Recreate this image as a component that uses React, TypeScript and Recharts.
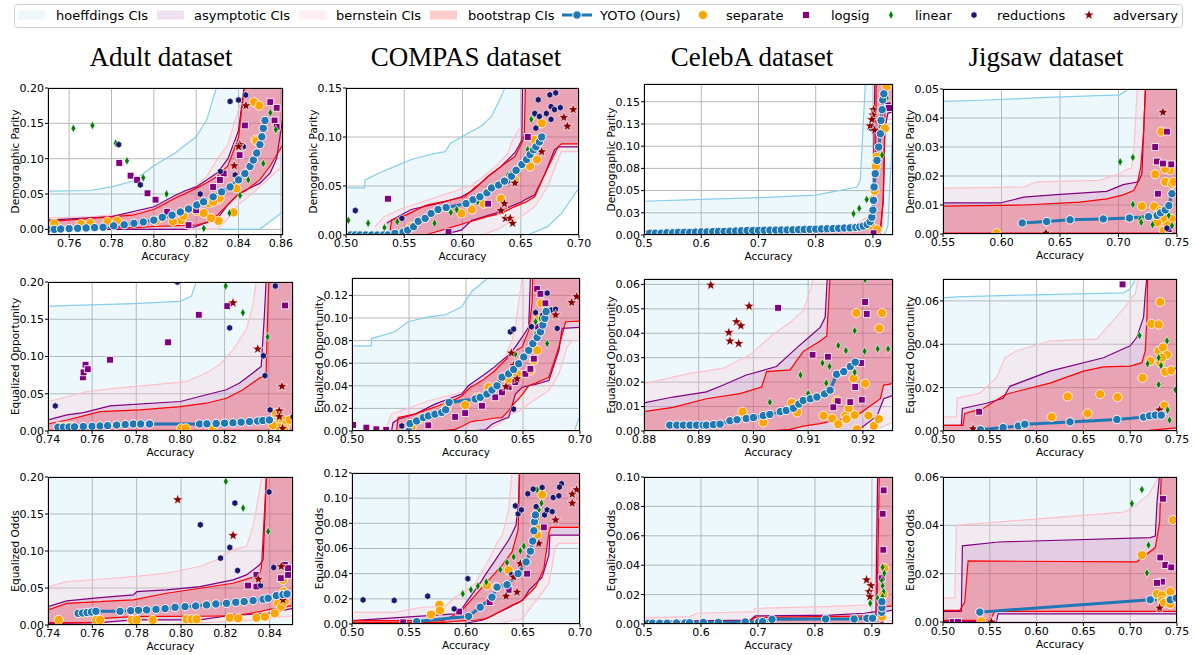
import React from "react";
import { Area, CartesianGrid, ComposedChart, Line, Scatter, XAxis, YAxis } from "recharts";

type BandRow = [number, number, number];
type Pt = [number, number];

// tick values
const ticksAdultDpX = [0.76, 0.78, 0.8, 0.82, 0.84, 0.86];
const ticksAdultX = [0.74, 0.76, 0.78, 0.8, 0.82, 0.84];
const ticksCompasX = [0.5, 0.55, 0.6, 0.65, 0.7];
const ticksCelebaX = [0.5, 0.6, 0.7, 0.8, 0.9];
const ticksCelebaEoX = [0.88, 0.89, 0.9, 0.91, 0.92];
const ticksJigsawDpX = [0.55, 0.6, 0.65, 0.7, 0.75];
const ticksJigsawX = [0.5, 0.55, 0.6, 0.65, 0.7, 0.75];
const ticksY020 = [0, 0.05, 0.1, 0.15, 0.2];
const ticksY015 = [0, 0.05, 0.1, 0.15];
const ticksYCeleba = [0, 0.025, 0.05, 0.075, 0.1, 0.125, 0.15];
const ticksY005 = [0, 0.01, 0.02, 0.03, 0.04, 0.05];
const ticksY012 = [0, 0.02, 0.04, 0.06, 0.08, 0.1, 0.12];
const ticksY006 = [0, 0.01, 0.02, 0.03, 0.04, 0.05, 0.06];
const ticksY06 = [0, 0.02, 0.04, 0.06];
const ticksY010 = [0, 0.02, 0.04, 0.06, 0.08, 0.1];

// ---------- Adult / demographic parity
const adultDP_hoeff: BandRow[] = [[0.75,0,0.054],[0.77,0,0.055],[0.78,0,0.06],[0.79,0,0.068],[0.8,0,0.09],[0.81,0,0.108],[0.82,0,0.131],[0.825,0,0.155],[0.83,0,0.205],[0.835,0,0.3],[0.85,0,0.5],[0.861,0.025,0.5]];
const adultDP_bern: BandRow[] = [[0.75,0,0.016],[0.77,0,0.018],[0.79,0,0.022],[0.8,0,0.03],[0.81,0,0.045],[0.82,0,0.062],[0.825,0,0.075],[0.83,0,0.1],[0.835,0.015,0.12],[0.84,0.035,0.17],[0.845,0.047,0.215],[0.85,0.06,0.4],[0.861,0.09,0.5]];
const adultDP_asym: BandRow[] = [[0.75,0,0.013],[0.78,0,0.018],[0.8,0,0.032],[0.81,0,0.048],[0.815,0,0.055],[0.82,0.004,0.06],[0.83,0.015,0.08],[0.835,0.035,0.1],[0.84,0.05,0.14],[0.843,0.055,0.21],[0.85,0.065,0.4],[0.855,0.08,0.5],[0.858,0.1,0.5],[0.861,0.16,0.5]];
const adultDP_boot: BandRow[] = [[0.75,0.002,0.011],[0.79,0.002,0.02],[0.8,0.004,0.028],[0.81,0.005,0.044],[0.82,0.006,0.058],[0.825,0.01,0.066],[0.83,0.02,0.075],[0.835,0.035,0.09],[0.84,0.05,0.13],[0.843,0.054,0.21],[0.85,0.07,0.4],[0.855,0.09,0.5],[0.861,0.12,0.5]];
const adultDP_yoto: Pt[] = [[0.75,0],[0.753,0],[0.756,0.0005],[0.76,0.001],[0.764,0.0015],[0.768,0.002],[0.772,0.0025],[0.776,0.003],[0.781,0.005],[0.786,0.0065],[0.7906,0.0085],[0.795,0.0104],[0.8,0.013],[0.804,0.017],[0.8086,0.02],[0.8125,0.0246],[0.8164,0.0288],[0.8203,0.0345],[0.8235,0.039],[0.828,0.046],[0.832,0.053],[0.836,0.06],[0.84,0.07],[0.843,0.079],[0.8454,0.089],[0.847,0.098],[0.8486,0.108],[0.8501,0.12],[0.851,0.131],[0.8517,0.143],[0.8525,0.154]];
const adultDP_sep: Pt[] = [[0.8473,0.18],[0.8498,0.175],[0.848,0.127],[0.8485,0.125],[0.8305,0.042],[0.831,0.044],[0.839,0.058],[0.8376,0.024],[0.8305,0.012],[0.827,0.016],[0.82,0.026],[0.813,0.013],[0.809,0.011],[0.801,0.012],[0.7827,0.012],[0.778,0.011],[0.77,0.009],[0.7655,0.0076],[0.753,0.0085],[0.8235,0.023],[0.826,0.037],[0.828,0.039],[0.814,0.019]];
const adultDP_log: Pt[] = [[0.855,0.18],[0.858,0.172],[0.857,0.154],[0.858,0.145],[0.843,0.147],[0.8415,0.117],[0.8405,0.105],[0.833,0.079],[0.8312,0.07],[0.828,0.06],[0.7837,0.094],[0.789,0.076],[0.7921,0.07],[0.797,0.051],[0.8008,0.042],[0.8063,0.025],[0.8164,0.006],[0.82,0.027]];
const adultDP_lin: Pt[] = [[0.762,0.143],[0.771,0.147],[0.782,0.122],[0.7873,0.097],[0.795,0.073],[0.806,0.05],[0.8236,0.0014],[0.8357,0.023],[0.8446,0.07],[0.8517,0.093],[0.8576,0.141],[0.855,0.165],[0.8407,0.048]];
const adultDP_red: Pt[] = [[0.7834,0.12],[0.7936,0.063],[0.836,0.181],[0.84,0.183],[0.8434,0.19],[0.8423,0.117],[0.8314,0.082],[0.8384,0.077],[0.8219,0.05]];
const adultDP_adv: Pt[] = [[0.8435,0.175],[0.8406,0.12],[0.838,0.09],[0.84,0.117]];

// ---------- COMPAS / demographic parity
const compasDP_hoeff: BandRow[] = [[0.5,0,0.048],[0.516,0,0.048],[0.5161,0,0.056],[0.528,0,0.063],[0.542,0,0.07],[0.556,0,0.077],[0.576,0,0.083],[0.585,0,0.085],[0.59,0,0.094],[0.605,0,0.104],[0.616,0,0.111],[0.625,0,0.121],[0.629,0,0.131],[0.632,0,0.138],[0.637,0,0.152],[0.656,0,0.3],[0.673,0.0085,0.3],[0.685,0.022,0.3],[0.693,0.036,0.3],[0.7,0.048,0.3]];
const compasDP_bern: BandRow[] = [[0.525,0,0.0085],[0.533,0,0.019],[0.548,0,0.027],[0.571,0,0.036],[0.591,0,0.044],[0.608,0,0.051],[0.616,0,0.058],[0.619,0.001,0.061],[0.628,0.005,0.07],[0.631,0.006,0.073],[0.639,0.012,0.084],[0.643,0.0145,0.097],[0.648,0.017,0.107],[0.6506,0.019,0.111],[0.652,0.02,0.2],[0.662,0.029,0.3],[0.673,0.049,0.3],[0.682,0.077,0.3],[0.685,0.085,0.3],[0.7,0.085,0.3]];
const compasDP_asym: BandRow[] = [[0.535,0,0.012],[0.539,0,0.015],[0.556,0,0.026],[0.582,0,0.033],[0.599,0.005,0.039],[0.608,0.015,0.045],[0.611,0.016,0.048],[0.622,0.02,0.06],[0.628,0.022,0.065],[0.633,0.025,0.07],[0.645,0.031,0.084],[0.651,0.034,0.097],[0.652,0.035,0.2],[0.662,0.041,0.3],[0.671,0.063,0.3],[0.679,0.087,0.3],[0.683,0.09,0.3],[0.7,0.09,0.3]];
const compasDP_boot: BandRow[] = [[0.538,0,0.005],[0.539,0,0.015],[0.551,0,0.02],[0.568,0,0.03],[0.571,0.001,0.031],[0.591,0.008,0.036],[0.602,0.012,0.039],[0.611,0.015,0.049],[0.616,0.017,0.053],[0.622,0.019,0.06],[0.633,0.022,0.07],[0.645,0.029,0.08],[0.651,0.032,0.094],[0.653,0.033,0.102],[0.655,0.034,0.2],[0.662,0.039,0.3],[0.671,0.063,0.3],[0.682,0.09,0.3],[0.685,0.093,0.3],[0.7,0.093,0.3]];
const compasDP_yoto: Pt[] = [[0.5,0],[0.504,0],[0.508,0],[0.512,0],[0.517,0],[0.522,0],[0.527,0],[0.532,0],[0.536,0],[0.542,0.0017],[0.549,0.003],[0.553,0.005],[0.558,0.0085],[0.562,0.014],[0.568,0.017],[0.573,0.022],[0.579,0.026],[0.586,0.028],[0.603,0.032],[0.609,0.036],[0.615,0.039],[0.621,0.043],[0.625,0.048],[0.631,0.051],[0.636,0.055],[0.642,0.06],[0.646,0.066],[0.651,0.072],[0.655,0.077],[0.658,0.082],[0.661,0.087],[0.663,0.09],[0.666,0.095],[0.668,0.1]];
const compasDP_sep: Pt[] = [[0.668,0.114],[0.662,0.097],[0.664,0.077],[0.645,0.056],[0.633,0.037],[0.599,0.022],[0.608,0.026],[0.618,0.032],[0.556,0.0085],[0.658,0.07]];
const compasDP_log: Pt[] = [[0.536,0.037],[0.588,0.003],[0.622,0.032],[0.656,0.1]];
const compasDP_lin: Pt[] = [[0.502,0.015],[0.519,0.012],[0.533,0.0075],[0.544,0.0136],[0.576,0.012],[0.59,0.023],[0.595,0.026],[0.605,0.032],[0.613,0.034],[0.638,0.055],[0.639,0.061],[0.651,0.07],[0.656,0.087],[0.659,0.118],[0.662,0.123],[0.665,0.095]];
const compasDP_red: Pt[] = [[0.508,0.025],[0.548,0.017],[0.662,0.124],[0.665,0.138],[0.675,0.143],[0.68,0.145],[0.676,0.131],[0.679,0.128],[0.684,0.13],[0.672,0.124],[0.666,0.121],[0.663,0.109],[0.676,0.118],[0.643,0.063],[0.639,0.055]];
const compasDP_adv: Pt[] = [[0.687,0.12],[0.69,0.111],[0.695,0.128],[0.668,0.085],[0.645,0.053],[0.636,0.032],[0.633,0.025],[0.637,0.017],[0.641,0.017],[0.643,0.012]];

// ---------- CelebA / demographic parity
const celebaDP_hoeff: BandRow[] = [[0.5,0,0.038],[0.6,0,0.04],[0.7,0,0.042],[0.8,0,0.045],[0.872,0,0.054],[0.878,0,0.062],[0.889,0,0.2],[0.92,0,0.3],[0.926,0.01,0.3],[0.93,0.06,0.3],[0.935,0.12,0.3]];
const celebaDP_bern: BandRow[] = [[0.5,0,0.004],[0.7,0,0.005],[0.8,0,0.006],[0.872,0,0.013],[0.9,0,0.024],[0.905,0,0.1],[0.907,0,0.3],[0.91,0,0.3],[0.917,0.01,0.3],[0.92,0.1,0.3],[0.922,0.13,0.3],[0.935,0.13,0.3]];
const celebaDP_asym: BandRow[] = [[0.5,0,0.002],[0.8,0,0.004],[0.884,0,0.013],[0.9,0,0.024],[0.906,0.002,0.3],[0.913,0.006,0.3],[0.918,0.04,0.3],[0.921,0.12,0.3],[0.926,0.137,0.3],[0.935,0.139,0.3]];
const celebaDP_boot: BandRow[] = [[0.5,0,0.004],[0.52,0,0.004],[0.521,0,0.003],[0.8,0,0.003],[0.884,0,0.006],[0.898,0,0.017],[0.904,0,0.039],[0.907,0.001,0.3],[0.913,0.002,0.3],[0.918,0.04,0.3],[0.921,0.144,0.3],[0.935,0.145,0.3]];
const celebaDP_yoto: Pt[] = [[0.51,0.002],[0.52,0.002],[0.53,0.002],[0.54,0.0025],[0.55,0.0025],[0.56,0.003],[0.57,0.003],[0.58,0.003],[0.59,0.0033],[0.6,0.0035],[0.61,0.0035],[0.62,0.0038],[0.63,0.004],[0.64,0.004],[0.65,0.0043],[0.66,0.0045],[0.67,0.0047],[0.68,0.005],[0.69,0.005],[0.7,0.0052],[0.71,0.0053],[0.72,0.0054],[0.73,0.0055],[0.74,0.0056],[0.75,0.0056],[0.76,0.0058],[0.77,0.006],[0.78,0.0062],[0.79,0.0064],[0.8,0.0066],[0.81,0.0068],[0.82,0.007],[0.83,0.0072],[0.84,0.0075],[0.85,0.0078],[0.86,0.008],[0.87,0.0085],[0.877,0.009],[0.883,0.01],[0.89,0.012],[0.895,0.015],[0.898,0.02],[0.9,0.028],[0.901,0.039],[0.902,0.054],[0.904,0.069],[0.907,0.084],[0.91,0.099],[0.913,0.114],[0.914,0.129],[0.916,0.141],[0.917,0.152],[0.919,0.159]];
const celebaDP_sep: Pt[] = [[0.905,0.077],[0.907,0.088],[0.921,0.12],[0.924,0.167],[0.898,0.009],[0.907,0.006],[0.903,0.05],[0.9,0.04]];
const celebaDP_log: Pt[] = [[0.926,0.146],[0.928,0.143],[0.901,0.002]];
const celebaDP_lin: Pt[] = [[0.866,0.024],[0.876,0.03],[0.889,0.04],[0.916,0.09],[0.924,0.154],[0.504,0],[0.518,0]];
const celebaDP_red: Pt[] = [[0.897,0.12],[0.9,0.123]];
const celebaDP_adv: Pt[] = [[0.901,0.141],[0.9,0.135],[0.895,0.123],[0.898,0.13],[0.903,0.118]];

// ---------- Jigsaw / demographic parity
const jigsawDP_hoeff: BandRow[] = [[0.55,0,0.0457],[0.59,0,0.0462],[0.633,0,0.047],[0.701,0,0.048],[0.709,0,0.05],[0.712,0,0.1],[0.75,0,0.1]];
const jigsawDP_bern: BandRow[] = [[0.55,0,0.0158],[0.619,0,0.0162],[0.63,0,0.018],[0.684,0,0.0185],[0.701,0,0.0208],[0.708,0,0.0225],[0.711,0,0.0225],[0.713,0,0.028],[0.716,0,0.05],[0.72,0,0.1],[0.75,0,0.1]];
const jigsawDP_asym: BandRow[] = [[0.55,0,0.0107],[0.599,0,0.0107],[0.619,0,0.0127],[0.647,0,0.0136],[0.69,0,0.0147],[0.704,0,0.017],[0.717,0,0.018],[0.72,0,0.0208],[0.7214,0,0.0347],[0.723,0,0.05],[0.725,0,0.1],[0.75,0,0.1]];
const jigsawDP_boot: BandRow[] = [[0.55,0.0003,0.0096],[0.619,0.0003,0.01],[0.667,0.0003,0.011],[0.69,0.0003,0.0121],[0.704,0.0003,0.0135],[0.713,0.0003,0.015],[0.716,0.0003,0.0173],[0.719,0.0003,0.0231],[0.7214,0.0003,0.0347],[0.723,0.0003,0.05],[0.725,0.0003,0.1],[0.75,0.0003,0.1]];
const jigsawDP_yoto: Pt[] = [[0.6177,0.0038],[0.6386,0.0043],[0.6586,0.0049],[0.687,0.0052],[0.7094,0.0055],[0.7257,0.006],[0.733,0.0064],[0.736,0.0073],[0.74,0.0083],[0.743,0.0098],[0.7457,0.0139]];
const jigsawDP_sep: Pt[] = [[0.5957,0.0003],[0.7366,0.0353],[0.72,0.0096],[0.7306,0.0095],[0.7314,0.0206],[0.74,0.018],[0.7437,0.022],[0.74,0.0225],[0.7457,0.0173],[0.7471,0.018],[0.7357,0.008],[0.7386,0.0052],[0.7457,0.0052],[0.7386,0.0012],[0.733,0.004],[0.742,0.003]];
const jigsawDP_log: Pt[] = [[0.7414,0.0353],[0.7314,0.03],[0.7329,0.025],[0.738,0.0243],[0.7451,0.024],[0.7337,0.0139],[0.7429,0.0017]];
const jigsawDP_lin: Pt[] = [[0.7014,0.0249],[0.7123,0.0264],[0.7123,0.0102],[0.7186,0.0052],[0.7194,0.004],[0.7291,0.0032],[0.7429,0.0064],[0.7457,0.0029]];
const jigsawDP_red: Pt[] = [[0.7414,0.002]];
const jigsawDP_adv: Pt[] = [[0.738,0.042],[0.638,0.0003]];

// ---------- Adult / equalized opportunity
const adultEO_hoeff: BandRow[] = [[0.74,0,0.1676],[0.7786,0,0.171],[0.8,0,0.174],[0.805,0,0.181],[0.807,0,0.199],[0.808,0,0.3],[0.851,0,0.3]];
const adultEO_bern: BandRow[] = [[0.74,0,0.0396],[0.7486,0,0.046],[0.7576,0,0.053],[0.7711,0,0.0575],[0.7877,0,0.062],[0.8027,0,0.0665],[0.8117,0,0.0778],[0.8177,0,0.089],[0.8238,0,0.109],[0.8298,0,0.136],[0.8328,0,0.168],[0.8343,0,0.2],[0.836,0,0.3],[0.851,0,0.3]];
const adultEO_asym: BandRow[] = [[0.74,0,0.0148],[0.7486,0,0.0216],[0.7561,0,0.0247],[0.7681,0,0.0337],[0.8,0,0.0396],[0.8087,0,0.0463],[0.8208,0,0.0553],[0.8268,0,0.0643],[0.8328,0,0.0778],[0.8366,0,0.0867],[0.838,0,0.154],[0.8388,0,0.2],[0.84,0,0.3],[0.851,0,0.3]];
const adultEO_boot: BandRow[] = [[0.74,0.001,0.0094],[0.7486,0.001,0.0148],[0.7636,0.001,0.026],[0.7817,0.001,0.0283],[0.8,0.001,0.0328],[0.8117,0.001,0.0373],[0.8208,0.001,0.044],[0.8283,0.001,0.0553],[0.8358,0.001,0.071],[0.8388,0.001,0.0755],[0.8395,0.001,0.154],[0.84,0.001,0.2],[0.841,0.001,0.3],[0.851,0.001,0.3]];
const adultEO_yoto: Pt[] = [[0.7445,0.005],[0.747,0.0052],[0.7495,0.0054],[0.752,0.0056],[0.756,0.006],[0.76,0.0063],[0.7636,0.0067],[0.767,0.0072],[0.7711,0.008],[0.775,0.0087],[0.7787,0.0094],[0.782,0.0094],[0.786,0.0094],[0.8087,0.0094],[0.812,0.0096],[0.8162,0.01],[0.82,0.0105],[0.8238,0.011],[0.8275,0.0118],[0.8313,0.0126],[0.835,0.0133],[0.8373,0.014],[0.8403,0.0148]];
const adultEO_sep: Pt[] = [[0.7448,0.006],[0.748,0.006],[0.7508,0.006],[0.8004,0.0036],[0.8025,0.0036],[0.8147,0.0036],[0.8433,0.0238],[0.8448,0.0126],[0.8463,0.0148],[0.8478,0.01],[0.8448,0.005],[0.847,0.003],[0.8418,0.008],[0.8495,0.015]];
const adultEO_log: Pt[] = [[0.7558,0.072],[0.7561,0.0787],[0.757,0.089],[0.758,0.083],[0.7681,0.0957],[0.7944,0.119],[0.8083,0.156],[0.8212,0.1676],[0.8474,0.1685]];
const adultEO_lin: Pt[] = [[0.8205,0.1946],[0.8283,0.1587],[0.8395,0.1263]];
const adultEO_red: Pt[] = [[0.7433,0.0337],[0.7986,0.2],[0.8223,0.1384],[0.8376,0.101],[0.8383,0.0742],[0.843,0.1946],[0.8406,0.0283],[0.851,0.019]];
const adultEO_adv: Pt[] = [[0.8238,0.172],[0.835,0.11],[0.846,0.06],[0.8448,0.027],[0.8448,0.0193],[0.8463,0.0036]];

// ---------- COMPAS / equalized opportunity
const compasEO_hoeff: BandRow[] = [[0.5,0,0.0753],[0.517,0,0.0753],[0.5171,0,0.0818],[0.5376,0,0.0878],[0.5493,0,0.0967],[0.567,0,0.101],[0.5816,0,0.1027],[0.5963,0,0.11],[0.605,0,0.1235],[0.614,0,0.131],[0.62,0,0.136],[0.64,0,0.3],[0.695,0,0.3],[0.7,0.0134,0.3]];
const compasEO_bern: BandRow[] = [[0.529,0,0],[0.5347,0,0.0149],[0.546,0,0.019],[0.567,0,0.0268],[0.5905,0,0.0327],[0.602,0,0.0357],[0.614,0,0.043],[0.617,0,0.046],[0.623,0.003,0.052],[0.6286,0.006,0.059],[0.6345,0.011,0.0655],[0.6374,0.0134,0.073],[0.6404,0.015,0.08],[0.6433,0.016,0.092],[0.6492,0.019,0.136],[0.655,0.0238,0.3],[0.6727,0.0357,0.3],[0.6815,0.0506,0.3],[0.6888,0.0744,0.3],[0.6932,0.08,0.3],[0.7,0.08,0.3]];
const compasEO_asym: BandRow[] = [[0.5347,0,0],[0.536,0,0.0074],[0.5405,0,0.0104],[0.555,0,0.0149],[0.5728,0,0.0238],[0.5963,0,0.0327],[0.602,0,0.04],[0.617,0.001,0.0506],[0.6228,0.006,0.055],[0.6316,0.01,0.0625],[0.6374,0.0119,0.067],[0.6433,0.0327,0.0744],[0.6492,0.0387,0.083],[0.655,0.04,0.092],[0.6565,0.0405,0.136],[0.66,0.041,0.3],[0.6727,0.0446,0.3],[0.6815,0.0714,0.3],[0.6844,0.0908,0.3],[0.7,0.0917,0.3]];
const compasEO_boot: BandRow[] = [[0.539,0,0],[0.5405,0,0.0119],[0.555,0,0.0149],[0.5758,0,0.0223],[0.5905,0.0015,0.028],[0.5963,0.004,0.031],[0.6037,0.008,0.0387],[0.608,0.0089,0.041],[0.614,0.0095,0.0446],[0.6257,0.0115,0.0536],[0.6316,0.0119,0.06],[0.6374,0.018,0.0655],[0.6404,0.0223,0.069],[0.6492,0.032,0.0744],[0.655,0.04,0.089],[0.658,0.041,0.113],[0.6586,0.0415,0.136],[0.66,0.042,0.3],[0.6727,0.0476,0.3],[0.6815,0.0744,0.3],[0.6874,0.0967,0.3],[0.7,0.0973,0.3]];
const compasEO_yoto: Pt[] = [[0.5499,0],[0.5508,0.0065],[0.5567,0.0089],[0.5626,0.0119],[0.567,0.0134],[0.5728,0.0149],[0.5787,0.0164],[0.5822,0.0188],[0.5852,0.0253],[0.608,0.0283],[0.6125,0.0298],[0.6184,0.0327],[0.6228,0.0363],[0.6272,0.04],[0.6316,0.0476],[0.6374,0.0506],[0.6418,0.0545],[0.6462,0.0595],[0.6507,0.0655],[0.655,0.0714],[0.6586,0.0774],[0.6624,0.0827],[0.6653,0.0878],[0.6674,0.0938],[0.6692,0.0997],[0.6703,0.1057]];
const compasEO_sep: Pt[] = [[0.5523,0.003],[0.5596,0.0104],[0.5831,0.021],[0.5993,0.0229],[0.6095,0.0298],[0.6198,0.0387],[0.6374,0.0446],[0.6448,0.0506],[0.6565,0.0536],[0.6595,0.0625],[0.6624,0.0714],[0.6639,0.101],[0.6662,0.113]];
const compasEO_log: Pt[] = [[0.5009,0.0054],[0.5126,0.003],[0.5214,0.0015],[0.53,0.001],[0.567,0.005],[0.5905,0.0125],[0.5993,0.0158],[0.614,0.0223],[0.6257,0.0298],[0.6316,0.0342],[0.6374,0.0387],[0.6433,0.0432],[0.6521,0.0506],[0.6565,0.055],[0.6595,0.064],[0.6624,0.1259],[0.6653,0.1214],[0.6697,0.113],[0.6668,0.0997],[0.6633,0.0923]];
const compasEO_lin: Pt[] = [[0.6433,0.068],[0.658,0.092],[0.661,0.0967],[0.6653,0.0997],[0.6712,0.0774],[0.661,0.085]];
const compasEO_red: Pt[] = [[0.6389,0.0878],[0.6418,0.0902],[0.6418,0.0193],[0.6712,0.122],[0.6747,0.107],[0.6786,0.1077],[0.68,0.0908],[0.6574,0.0923],[0.661,0.1048],[0.6674,0.1027],[0.5437,0.0045]];
const compasEO_adv: Pt[] = [[0.6927,0.1137],[0.6971,0.119],[0.6786,0.1027],[0.6398,0.069],[0.6418,0.058],[0.6448,0.0461],[0.6351,0.0393]];

// ---------- CelebA / equalized opportunity
const celebaEO_hoeff: BandRow[] = [[0.88,0,0.2],[0.9255,0,0.2]];
const celebaEO_bern: BandRow[] = [[0.88,0,0.0194],[0.8884,0,0.0236],[0.8945,0,0.0257],[0.8994,0,0.0312],[0.9036,0,0.0396],[0.9067,0,0.0444],[0.9091,0,0.0493],[0.9104,0,0.0576],[0.911,0,0.063],[0.912,0,0.2],[0.92,0,0.2],[0.9232,0.0014,0.2],[0.9255,0.0035,0.2]];
const celebaEO_asym: BandRow[] = [[0.88,0,0.0115],[0.8853,0,0.0139],[0.8914,0,0.016],[0.8945,0,0.0188],[0.8987,0,0.0229],[0.9042,0,0.0264],[0.9079,0,0.034],[0.9104,0,0.0389],[0.9122,0,0.0424],[0.9131,0,0.0465],[0.9135,0,0.063],[0.914,0,0.2],[0.919,0,0.2],[0.9226,0.0063,0.2],[0.9238,0.0132,0.2],[0.9255,0.0146,0.2]];
const celebaEO_boot: BandRow[] = [[0.88,0,0.0079],[0.8853,0,0.0097],[0.8914,0,0.0132],[0.8975,0,0.0153],[0.9015,0,0.018],[0.9024,0,0.0243],[0.9067,0.0007,0.025],[0.9091,0.002,0.0326],[0.9122,0.003,0.0368],[0.9134,0.0036,0.0389],[0.914,0.004,0.063],[0.9145,0.004,0.2],[0.9189,0.0063,0.2],[0.9232,0.0132,0.2],[0.9238,0.0188,0.2],[0.9255,0.0194,0.2]];
const celebaEO_yoto: Pt[] = [[0.8847,0.0024],[0.886,0.0024],[0.8872,0.0024],[0.8884,0.0024],[0.8896,0.0024],[0.8908,0.0024],[0.8914,0.0024],[0.8927,0.0026],[0.8939,0.0028],[0.8957,0.0042],[0.897,0.0046],[0.8987,0.0051],[0.9,0.0055],[0.9018,0.0063],[0.903,0.0068],[0.9049,0.0079],[0.906,0.0084],[0.9073,0.0093],[0.9083,0.011],[0.9091,0.0125],[0.9104,0.0132],[0.9116,0.0139],[0.913,0.0152],[0.914,0.0167],[0.9152,0.0232],[0.9165,0.0243],[0.9177,0.0264],[0.9186,0.0282]];
const celebaEO_sep: Pt[] = [[0.898,0.0079],[0.9018,0.0035],[0.907,0.0115],[0.908,0.0076],[0.9128,0.0063],[0.9144,0.0051],[0.9152,0.0125],[0.9155,0.0028],[0.9168,0.0063],[0.917,0.0049],[0.9174,0.0093],[0.9183,0.0215],[0.9185,0.0065],[0.9188,0.0483],[0.9204,0.0194],[0.921,0.0063],[0.922,0.0021],[0.9229,0.0049],[0.923,0.042],[0.9235,0.0483],[0.9189,0.0007]];
const celebaEO_log: Pt[] = [[0.9045,0.0504],[0.9108,0.0312],[0.9136,0.0304],[0.9154,0.0122],[0.9146,0.0097],[0.9177,0.0118],[0.9186,0.018],[0.9197,0.0278],[0.9198,0.0128],[0.9204,0.0528],[0.9207,0.0479]];
const celebaEO_lin: Pt[] = [[0.903,0.0118],[0.9086,0.0229],[0.9126,0.0278],[0.9139,0.0264],[0.9133,0.0196],[0.91,0.0153],[0.9155,0.035],[0.9169,0.0329],[0.9185,0.041],[0.9185,0.024],[0.9203,0.0326],[0.9204,0.062],[0.9227,0.0336],[0.9246,0.0336]];
const celebaEO_red: Pt[] = [];
const celebaEO_adv: Pt[] = [[0.8922,0.0597],[0.8992,0.0511],[0.8969,0.0447],[0.8977,0.0431],[0.8955,0.0403],[0.8957,0.0368],[0.8973,0.0358]];

// ---------- Jigsaw / equalized opportunity
const jigsawEO_hoeff: BandRow[] = [[0.5,0,0.0614],[0.5143,0,0.0619],[0.5857,0,0.0627],[0.6929,0,0.0637],[0.6982,0,0.065],[0.7036,0,0.068],[0.7054,0,0.071],[0.71,0,0.2],[0.75,0,0.2]];
const jigsawEO_bern: BandRow[] = [[0.5,0,0.0065],[0.5143,0,0.0065],[0.515,0,0.0151],[0.5393,0,0.0175],[0.5571,0,0.0245],[0.5661,0,0.0338],[0.5786,0,0.0369],[0.6143,0,0.0416],[0.6643,0,0.0424],[0.6929,0,0.0564],[0.7054,0,0.0634],[0.709,0,0.071],[0.712,0,0.2],[0.75,0,0.2]];
const jigsawEO_asym: BandRow[] = [[0.5,0,0.0026],[0.5196,0,0.0026],[0.5207,0,0.0104],[0.5464,0,0.0128],[0.5643,0,0.0151],[0.5714,0,0.0206],[0.6143,0,0.0276],[0.6714,0,0.0338],[0.7,0,0.0393],[0.7071,0,0.0432],[0.7143,0,0.0525],[0.7161,0,0.0634],[0.7179,0,0.071],[0.72,0,0.2],[0.75,0,0.2]];
const jigsawEO_boot: BandRow[] = [[0.5,0,0.0026],[0.5214,0,0.0026],[0.5232,0,0.0081],[0.5429,0,0.0104],[0.5661,0,0.0167],[0.5786,0,0.0182],[0.6143,0,0.0221],[0.65,0,0.0276],[0.6714,0,0.0296],[0.7,0,0.0299],[0.7125,0,0.0315],[0.7161,0,0.0369],[0.7179,0,0.0525],[0.7186,0,0.071],[0.72,0.0003,0.2],[0.75,0.0014,0.2]];
const jigsawEO_yoto: Pt[] = [[0.54,0.0006],[0.5643,0.0016],[0.5804,0.0023],[0.5875,0.0031],[0.6357,0.0042],[0.6857,0.0053],[0.7143,0.0064],[0.7207,0.007],[0.7268,0.0073],[0.7332,0.0073]];
const jigsawEO_sep: Pt[] = [[0.6161,0.0065],[0.6332,0.0159],[0.6543,0.0081],[0.6679,0.017],[0.6864,0.0156],[0.7132,0.0245],[0.7225,0.0494],[0.7304,0.0491],[0.7321,0.0595],[0.7214,0.0323],[0.7304,0.0369],[0.7321,0.0315],[0.735,0.0385],[0.7393,0.0351],[0.7375,0.0273],[0.7439,0.0279],[0.7364,0.0117],[0.7339,0.0338]];
const jigsawEO_log: Pt[] = [[0.6918,0.0676],[0.5386,0.0089]];
const jigsawEO_lin: Pt[] = [[0.71,0.044],[0.7186,0.031],[0.7304,0.0338],[0.7329,0.0302],[0.7393,0.0416],[0.7304,0.0214],[0.74,0.0097],[0.7482,0.019],[0.7421,0.005],[0.75,0.029]];
const jigsawEO_red: Pt[] = [];
const jigsawEO_adv: Pt[] = [[0.7314,0.0097],[0.5321,0.001]];

// ---------- Adult / equalized odds
const adultEOd_hoeff: BandRow[] = [[0.74,0,0.3],[0.8505,0,0.3]];
const adultEOd_bern: BandRow[] = [[0.74,0,0.0519],[0.7485,0,0.0587],[0.7635,0,0.0618],[0.7785,0,0.0655],[0.7935,0,0.07],[0.8,0.002,0.074],[0.8085,0.003,0.079],[0.816,0.004,0.088],[0.8235,0.005,0.1016],[0.8295,0.006,0.106],[0.8325,0.007,0.133],[0.8355,0.008,0.183],[0.8363,0.008,0.2],[0.838,0.009,0.3],[0.8505,0.012,0.3]];
const adultEOd_asym: BandRow[] = [[0.74,0.0023,0.0248],[0.7485,0.0025,0.0325],[0.7635,0.0032,0.037],[0.7785,0.0068,0.0406],[0.78,0.0068,0.045],[0.7935,0.0068,0.0474],[0.8085,0.0068,0.0519],[0.8235,0.0135,0.061],[0.8295,0.014,0.0677],[0.8355,0.0152,0.0813],[0.837,0.0155,0.088],[0.8385,0.0158,0.2],[0.84,0.016,0.3],[0.8505,0.0226,0.3]];
const adultEOd_boot: BandRow[] = [[0.74,0.0032,0.0203],[0.7485,0.0032,0.0293],[0.759,0.0032,0.031],[0.7635,0.007,0.0316],[0.765,0.009,0.032],[0.7785,0.0113,0.0339],[0.7935,0.0116,0.0429],[0.8085,0.0118,0.0497],[0.8235,0.0122,0.0564],[0.8355,0.018,0.0677],[0.8363,0.0185,0.079],[0.8385,0.0203,0.2],[0.84,0.021,0.3],[0.8505,0.0262,0.3]];
const adultEOd_yoto: Pt[] = [[0.7536,0.0158],[0.7556,0.0162],[0.7576,0.0168],[0.7596,0.0175],[0.7616,0.0185],[0.7725,0.0185],[0.7773,0.0194],[0.7808,0.0199],[0.7845,0.0203],[0.7887,0.0212],[0.7928,0.0221],[0.7973,0.0239],[0.8018,0.0248],[0.8066,0.0257],[0.8115,0.0271],[0.8157,0.0284],[0.8205,0.0293],[0.8247,0.0307],[0.8285,0.0316],[0.8325,0.033],[0.837,0.0348],[0.8393,0.0361],[0.843,0.0397],[0.846,0.0411],[0.8478,0.042]];
const adultEOd_sep: Pt[] = [[0.7448,0.0068],[0.7617,0.0068],[0.7635,0.0068],[0.7778,0.0068],[0.78,0.0068],[0.7872,0.0068],[0.8025,0.0077],[0.8048,0.0077],[0.807,0.0077],[0.822,0.0099],[0.8258,0.009],[0.834,0.0099],[0.8378,0.0113],[0.8423,0.0158],[0.8437,0.0293],[0.8452,0.0248],[0.846,0.061],[0.8465,0.0451],[0.8468,0.0316]];
const adultEOd_log: Pt[] = [[0.834,0.0677],[0.8302,0.0533],[0.834,0.052],[0.845,0.0632],[0.8468,0.0813],[0.8483,0.0768],[0.8483,0.0677]];
const adultEOd_lin: Pt[] = [[0.8202,0.194],[0.828,0.158],[0.8393,0.1264]];
const adultEOd_red: Pt[] = [[0.8087,0.1354],[0.8178,0.0903],[0.822,0.1047],[0.8243,0.1648],[0.8255,0.0736],[0.8397,0.1797],[0.8418,0.0777],[0.8359,0.0533]];
const adultEOd_adv: Pt[] = [[0.7985,0.1693],[0.8235,0.121],[0.8349,0.0619],[0.8452,0.079],[0.846,0.0339]];

// ---------- COMPAS / equalized odds
const compasEOd_hoeff: BandRow[] = [[0.5,0,0.3],[0.7,0,0.3]];
const compasEOd_bern: BandRow[] = [[0.5,0,0.0093],[0.5376,0,0.0093],[0.5611,0,0.0133],[0.5816,0,0.0139],[0.5905,0,0.0213],[0.6081,0,0.032],[0.6198,0,0.0507],[0.6286,0,0.0667],[0.6316,0.0005,0.07],[0.633,0.001,0.0747],[0.6374,0.002,0.0907],[0.6404,0.003,0.121],[0.645,0.003,0.3],[0.6492,0.004,0.3],[0.6639,0.0213,0.3],[0.6727,0.032,0.3],[0.6786,0.0613,0.3],[0.6815,0.064,0.3],[0.7,0.064,0.3]];
const compasEOd_asym: BandRow[] = [[0.5,0,0.0027],[0.5905,0,0.008],[0.5963,0,0.012],[0.614,0.003,0.0347],[0.6169,0.004,0.039],[0.6257,0.008,0.0507],[0.6374,0.013,0.0667],[0.6404,0.0147,0.072],[0.6439,0.016,0.0787],[0.6462,0.017,0.0987],[0.6468,0.0175,0.121],[0.65,0.019,0.3],[0.6551,0.0267,0.3],[0.6668,0.0373,0.3],[0.6727,0.0547,0.3],[0.6736,0.0707,0.3],[0.7,0.0707,0.3]];
const compasEOd_boot: BandRow[] = [[0.5,0.0013,0.0027],[0.58,0.0013,0.0027],[0.589,0.002,0.0067],[0.5963,0.0025,0.0107],[0.6081,0.003,0.0227],[0.6169,0.004,0.032],[0.6198,0.005,0.0347],[0.6316,0.0107,0.0467],[0.6404,0.015,0.0573],[0.6457,0.017,0.0747],[0.6471,0.0175,0.121],[0.6492,0.0187,0.3],[0.6609,0.0293,0.3],[0.6683,0.044,0.3],[0.6727,0.072,0.3],[0.6742,0.0768,0.3],[0.7,0.0768,0.3]];
const compasEOd_yoto: Pt[] = [[0.5567,0.0019],[0.6022,0.0061],[0.6125,0.0133],[0.6228,0.0213],[0.6272,0.0293],[0.636,0.0312],[0.6457,0.04],[0.6527,0.0493],[0.6565,0.0579],[0.6586,0.0659],[0.6595,0.0741],[0.66,0.0813],[0.6609,0.0867]];
const compasEOd_sep: Pt[] = [[0.5693,0.0075],[0.5767,0.0152],[0.5772,0.0107],[0.6184,0.0307],[0.6266,0.0293],[0.6374,0.0427],[0.6624,0.076],[0.6624,0.0707],[0.6668,0.1027]];
const compasEOd_log: Pt[] = [[0.5449,0.0013],[0.594,0.0099],[0.6207,0.0173],[0.6374,0.0272],[0.6536,0.04],[0.6683,0.0768]];
const compasEOd_lin: Pt[] = [[0.5972,0.024],[0.6043,0.0272],[0.6104,0.0301],[0.6178,0.0333],[0.6301,0.0432],[0.636,0.0488],[0.6418,0.0533],[0.6477,0.0581],[0.6507,0.0619],[0.6586,0.0747],[0.6624,0.0832],[0.6639,0.0907],[0.6662,0.096],[0.6624,0.1067]];
const compasEOd_red: Pt[] = [[0.5097,0.0192],[0.537,0.0187],[0.5664,0.0221],[0.5896,0.012],[0.6016,0.036],[0.6398,0.0392],[0.6457,0.0875],[0.6433,0.0939],[0.6486,0.0907],[0.6542,0.1035],[0.6589,0.1072],[0.6668,0.1085],[0.6615,0.0933],[0.6689,0.0867],[0.6712,0.0907],[0.6756,0.0893],[0.6765,0.1005],[0.6815,0.1019],[0.6838,0.1115],[0.682,0.1088]];
const compasEOd_adv: Pt[] = [[0.6971,0.1067],[0.6932,0.1032],[0.6932,0.096],[0.6786,0.0827],[0.6639,0.064],[0.6477,0.048],[0.6418,0.0373],[0.6448,0.0253],[0.6351,0.0221]];

// ---------- CelebA / equalized odds
const celebaEOd_hoeff: BandRow[] = [[0.5,0,0.3],[0.937,0,0.3]];
const celebaEOd_bern: BandRow[] = [[0.5,0,0.0043],[0.5806,0,0.005],[0.5924,0,0.0073],[0.6924,0,0.0084],[0.6953,0,0.0107],[0.8159,0,0.0118],[0.8982,0,0.013],[0.9041,0,0.0164],[0.91,0,0.101],[0.912,0,0.3],[0.925,0,0.3],[0.937,0.003,0.3]];
const celebaEOd_asym: BandRow[] = [[0.5,0,0.0016],[0.6865,0,0.0027],[0.6953,0,0.0055],[0.8276,0,0.0061],[0.8865,0,0.0073],[0.907,0,0.0084],[0.91,0,0.101],[0.912,0,0.3],[0.9188,0.0009,0.3],[0.9218,0.0084,0.3],[0.937,0.0095,0.3]];
const celebaEOd_boot: BandRow[] = [[0.5,0,0.0009],[0.6865,0,0.002],[0.6953,0,0.0045],[0.9041,0,0.0055],[0.9088,0,0.0084],[0.913,0,0.101],[0.914,0,0.3],[0.9188,0.0016,0.3],[0.9247,0.0118,0.3],[0.937,0.0123,0.3]];
const celebaEOd_yoto: Pt[] = [[0.507,0.0005],[0.515,0.0005],[0.5276,0.0005],[0.5406,0.0005],[0.5571,0.0007],[0.5718,0.0007],[0.58,0.0008],[0.6041,0.0011],[0.6306,0.0011],[0.6776,0.0014],[0.7012,0.0014],[0.7082,0.0016],[0.7247,0.0032],[0.8188,0.0034],[0.8688,0.0034],[0.8912,0.0039],[0.9012,0.0039],[0.9171,0.008],[0.9176,0.0111],[0.9176,0.0152]];
const celebaEOd_sep: Pt[] = [[0.9218,0.038],[0.9176,0.005],[0.92,0.02]];
const celebaEOd_log: Pt[] = [[0.9206,0.0909],[0.9188,0.075],[0.92,0.0505],[0.9171,0.0311]];
const celebaEOd_lin: Pt[] = [[0.9188,0.0386],[0.9218,0.0345],[0.9176,0.0295],[0.9188,0.0259],[0.9206,0.022],[0.9188,0.0186],[0.91,0.0175],[0.8971,0.0141]];
const celebaEOd_red: Pt[] = [];
const celebaEOd_adv: Pt[] = [[0.8906,0.03],[0.8982,0.0261],[0.8953,0.022],[0.8965,0.0186]];

// ---------- Jigsaw / equalized odds
const jigsawEOd_hoeff: BandRow[] = [[0.5,0,0.2],[0.75,0,0.2]];
const jigsawEOd_bern: BandRow[] = [[0.5,0,0.0099],[0.5125,0,0.0099],[0.5143,0,0.04],[0.6929,0,0.0455],[0.7,0,0.0466],[0.7196,0,0.0527],[0.7304,0,0.06],[0.733,0,0.2],[0.75,0,0.2]];
const jigsawEOd_asym: BandRow[] = [[0.5,0.0003,0.0044],[0.5196,0.0003,0.0044],[0.5207,0.0003,0.0315],[0.5571,0.0003,0.033],[0.5589,0.0034,0.0331],[0.7214,0.0034,0.0349],[0.7268,0.0034,0.0356],[0.7286,0.0034,0.0493],[0.7314,0.0034,0.061],[0.735,0.0034,0.2],[0.75,0.0034,0.2]];
const jigsawEOd_boot: BandRow[] = [[0.5,0.0007,0.0048],[0.5179,0.0007,0.0048],[0.5232,0.0007,0.0082],[0.5268,0.0007,0.0253],[0.55,0.0007,0.0252],[0.5554,0.0044,0.0252],[0.7071,0.0044,0.0249],[0.7268,0.0044,0.0308],[0.7314,0.0044,0.0411],[0.7332,0.0044,0.061],[0.735,0.0044,0.2],[0.75,0.0044,0.2]];
const jigsawEOd_yoto: Pt[] = [[0.5393,0.0041],[0.7214,0.0092],[0.7429,0.0092],[0.7493,0.0099]];
const jigsawEOd_sep: Pt[] = [[0.7125,0.0277],[0.7286,0.0116],[0.7339,0.011],[0.7339,0.0089],[0.7357,0.0079],[0.7429,0.0126],[0.7429,0.0075],[0.7457,0.0422],[0.541,0.0003]];
const jigsawEOd_log: Pt[] = [[0.735,0.051],[0.7321,0.0267],[0.7375,0.0236],[0.7439,0.0226],[0.7339,0.0167],[0.7286,0.0162],[0.5107,0],[0.516,0]];
const jigsawEOd_lin: Pt[] = [[0.7018,0.049],[0.7125,0.0548],[0.7196,0.0318],[0.7179,0.0203]];
const jigsawEOd_red: Pt[] = [];
const jigsawEOd_adv: Pt[] = [[0.7314,0.0058],[0.5518,0]];

// ---------- helpers
const f2 = (v: number) => v.toFixed(2);
const f1 = (v: number) => v.toFixed(1);
const fr2 = (v: number) => (Math.round(v * 100 + 0.001) / 100).toFixed(2);
const bandRows = (rows: BandRow[]) => rows.map(([x, lo, hi]) => ({ x, r: [lo, hi] }));
const ptRows = (rows: Pt[]) => rows.map(([x, y]) => ({ x, y }));

const BAND_STYLE = [
  { key: "hoeff", color: "#87ceeb", op: 0.15 },
  { key: "bern", color: "#ffc0cb", op: 0.25 },
  { key: "asym", color: "#800080", op: 0.12 },
  { key: "boot", color: "#ff0000", op: 0.2 },
];

type MarkerKind = "sep" | "log" | "lin" | "red" | "adv";
const MARKER_ORDER: MarkerKind[] = ["sep", "log", "lin", "red", "adv"];

function Marker({ kind, cx, cy }: { kind: MarkerKind; cx: number; cy: number }) {
  if (cx == null || cy == null || isNaN(cx) || isNaN(cy)) return <g />;
  if (kind === "sep") return <circle cx={cx} cy={cy} r={4.6} fill="#ffa500" stroke="#fff" strokeWidth={0.8} />;
  if (kind === "log") return <rect x={cx - 3.4} y={cy - 3.4} width={6.8} height={6.8} fill="#800080" stroke="#fff" strokeWidth={0.8} />;
  if (kind === "lin")
    return <polygon points={`${cx},${cy - 4.4} ${cx + 2.4},${cy} ${cx},${cy + 4.4} ${cx - 2.4},${cy}`} fill="#008000" stroke="#fff" strokeWidth={0.6} />;
  if (kind === "red") {
    const pts = Array.from({ length: 6 }, (_, i) => {
      const a = -Math.PI / 2 + (i * Math.PI) / 3;
      return `${cx + 3.4 * Math.cos(a)},${cy + 3.4 * Math.sin(a)}`;
    }).join(" ");
    return <polygon points={pts} fill="#191970" stroke="#fff" strokeWidth={0.6} />;
  }
  const pts = Array.from({ length: 10 }, (_, i) => {
    const a = -Math.PI / 2 + (i * Math.PI) / 5;
    const rr = i % 2 === 0 ? 5.6 : 2.3;
    return `${cx + rr * Math.cos(a)},${cy + rr * Math.sin(a)}`;
  }).join(" ");
  return <polygon points={pts} fill="#8b0000" stroke="#fff" strokeWidth={0.6} />;
}

type PanelCfg = {
  box: [number, number, number, number];
  xd: [number, number];
  yd: [number, number];
  xt: number[];
  yt: number[];
  xf: (v: number) => string;
  yf: (v: number) => string;
  ylabel: string;
  bands: Record<string, BandRow[]>;
  yoto: Pt[];
  pts: Record<MarkerKind, Pt[]>;
};

const mk = (
  box: [number, number, number, number], xd: [number, number], yd: [number, number],
  xt: number[], yt: number[], xf: (v: number) => string, yf: (v: number) => string, ylabel: string,
  b: BandRow[][], yoto: Pt[], p: Pt[][]
): PanelCfg => ({
  box, xd, yd, xt, yt, xf, yf, ylabel,
  bands: { hoeff: b[0], bern: b[1], asym: b[2], boot: b[3] },
  yoto,
  pts: { sep: p[0], log: p[1], lin: p[2], red: p[3], adv: p[4] },
});

const DP = "Demographic Parity";
const EO = "Equalized Opportunity";
const EOD = "Equalized Odds";

const panels: PanelCfg[] = [
  mk([48, 88, 283, 235], [0.75, 0.861], [-0.008, 0.2], ticksAdultDpX, ticksY020, f2, f2, DP,
    [adultDP_hoeff, adultDP_bern, adultDP_asym, adultDP_boot], adultDP_yoto, [adultDP_sep, adultDP_log, adultDP_lin, adultDP_red, adultDP_adv]),
  mk([346, 88, 579, 235], [0.5, 0.7], [0, 0.15], ticksCompasX, ticksY015, f2, f2, DP,
    [compasDP_hoeff, compasDP_bern, compasDP_asym, compasDP_boot], compasDP_yoto, [compasDP_sep, compasDP_log, compasDP_lin, compasDP_red, compasDP_adv]),
  mk([644, 84, 893, 235], [0.5, 0.935], [0, 0.17], ticksCelebaX, ticksYCeleba, f1, fr2, DP,
    [celebaDP_hoeff, celebaDP_bern, celebaDP_asym, celebaDP_boot], celebaDP_yoto, [celebaDP_sep, celebaDP_log, celebaDP_lin, celebaDP_red, celebaDP_adv]),
  mk([943, 89, 1177, 234], [0.55, 0.75], [0, 0.05], ticksJigsawDpX, ticksY005, f2, f2, DP,
    [jigsawDP_hoeff, jigsawDP_bern, jigsawDP_asym, jigsawDP_boot], jigsawDP_yoto, [jigsawDP_sep, jigsawDP_log, jigsawDP_lin, jigsawDP_red, jigsawDP_adv]),
  mk([48, 282, 293, 431], [0.74, 0.851], [0, 0.2], ticksAdultX, ticksY020, f2, f2, EO,
    [adultEO_hoeff, adultEO_bern, adultEO_asym, adultEO_boot], adultEO_yoto, [adultEO_sep, adultEO_log, adultEO_lin, adultEO_red, adultEO_adv]),
  mk([352, 278, 580, 431], [0.5, 0.7], [0, 0.1354], ticksCompasX, ticksY012, f2, f2, EO,
    [compasEO_hoeff, compasEO_bern, compasEO_asym, compasEO_boot], compasEO_yoto, [compasEO_sep, compasEO_log, compasEO_lin, compasEO_red, compasEO_adv]),
  mk([644, 279, 893, 431], [0.88, 0.9255], [0, 0.0622], ticksCelebaEoX, ticksY006, f2, f2, EO,
    [celebaEO_hoeff, celebaEO_bern, celebaEO_asym, celebaEO_boot], celebaEO_yoto, [celebaEO_sep, celebaEO_log, celebaEO_lin, celebaEO_red, celebaEO_adv]),
  mk([943, 279, 1177, 431], [0.5, 0.75], [0, 0.0701], ticksJigsawX, ticksY06, f2, f2, EO,
    [jigsawEO_hoeff, jigsawEO_bern, jigsawEO_asym, jigsawEO_boot], jigsawEO_yoto, [jigsawEO_sep, jigsawEO_log, jigsawEO_lin, jigsawEO_red, jigsawEO_adv]),
  mk([48, 477, 293, 625], [0.74, 0.8505], [0, 0.2], ticksAdultX, ticksY020, f2, f2, EOD,
    [adultEOd_hoeff, adultEOd_bern, adultEOd_asym, adultEOd_boot], adultEOd_yoto, [adultEOd_sep, adultEOd_log, adultEOd_lin, adultEOd_red, adultEOd_adv]),
  mk([352, 473, 580, 624], [0.5, 0.7], [0, 0.12], ticksCompasX, ticksY012, f2, f2, EOD,
    [compasEOd_hoeff, compasEOd_bern, compasEOd_asym, compasEOd_boot], compasEOd_yoto, [compasEOd_sep, compasEOd_log, compasEOd_lin, compasEOd_red, compasEOd_adv]),
  mk([644, 477, 893, 624], [0.5, 0.937], [0, 0.1], ticksCelebaX, ticksY010, f1, f2, EOD,
    [celebaEOd_hoeff, celebaEOd_bern, celebaEOd_asym, celebaEOd_boot], celebaEOd_yoto, [celebaEOd_sep, celebaEOd_log, celebaEOd_lin, celebaEOd_red, celebaEOd_adv]),
  mk([943, 477, 1177, 623], [0.5, 0.75], [-0.0004, 0.06], ticksJigsawX, ticksY06, f2, f2, EOD,
    [jigsawEOd_hoeff, jigsawEOd_bern, jigsawEOd_asym, jigsawEOd_boot], jigsawEOd_yoto, [jigsawEOd_sep, jigsawEOd_log, jigsawEOd_lin, jigsawEOd_red, jigsawEOd_adv]),
];

const ML = 45, MT = 5, MR = 18, MB = 22;
const TICK = { fontSize: 11, fill: "#000", fontFamily: "DejaVu Sans" };

function Panel({ cfg }: { cfg: PanelCfg }) {
  const [x0, y0, x1, y1] = cfg.box;
  const w = x1 - x0 + ML + MR;
  const h = y1 - y0 + MT + MB;
  return (
    <div style={{ position: "absolute", left: x0 - ML, top: y0 - MT }}>
      <ComposedChart width={w} height={h} margin={{ top: MT, right: MR, bottom: 0, left: 0 }}>
        <CartesianGrid stroke="#b0b0b0" strokeWidth={0.9} />
        <XAxis type="number" dataKey="x" domain={cfg.xd} ticks={cfg.xt} allowDataOverflow interval={0}
          height={MB} tickFormatter={cfg.xf} tick={TICK} tickLine={{ stroke: "#000" }} tickSize={3} tickMargin={1} axisLine={false} />
        <YAxis type="number" domain={cfg.yd} ticks={cfg.yt} allowDataOverflow interval={0}
          width={ML} tickFormatter={cfg.yf} tick={TICK} tickLine={{ stroke: "#000" }} tickSize={3} tickMargin={1} axisLine={false} />
        {BAND_STYLE.map((b) => (
          <Area key={b.key} data={bandRows(cfg.bands[b.key])} dataKey="r" type="linear"
            fill={b.color} fillOpacity={b.op} stroke={b.color} strokeWidth={1.2}
            dot={false} activeDot={false} isAnimationActive={false} />
        ))}
        {MARKER_ORDER.map((k) => (
          <Scatter key={k} data={ptRows(cfg.pts[k])} dataKey="y" isAnimationActive={false}
            shape={(p: any) => <Marker kind={k} cx={p.cx} cy={p.cy} />} />
        ))}
        <Line data={ptRows(cfg.yoto)} dataKey="y" type="linear" stroke="#1f77b4" strokeWidth={3}
          isAnimationActive={false} activeDot={false}
          dot={(p: any) => <circle key={p.index} cx={p.cx} cy={p.cy} r={4.2} fill="#1f77b4" stroke="#fff" strokeWidth={1} />} />
      </ComposedChart>
    </div>
  );
}

const titles = ["Adult dataset", "COMPAS dataset", "CelebA dataset", "Jigsaw dataset"];
const titleX = [161, 466, 752, 1046];

function Overlay() {
  const patch = (x: number, i: number) => (
    <rect x={x} y={10.5} width={27} height={9} fill={BAND_STYLE[i].color} fillOpacity={BAND_STYLE[i].op} />
  );
  const txt = { fontFamily: "DejaVu Sans", fontSize: 13, fill: "#000" };
  return (
    <svg width={1195} height={655} style={{ position: "absolute", left: 0, top: 0, pointerEvents: "none" }}>
      <rect x={14.5} y={4.5} width={1168} height={23} rx={3} fill="#fff" stroke="#d0d0d0" />
      {patch(18, 0)}
      <text x={56} y={20} {...txt}>hoeffdings CIs</text>
      {patch(157, 2)}
      <text x={194} y={20} {...txt}>asymptotic CIs</text>
      {patch(299, 1)}
      <text x={336} y={20} {...txt}>bernstein CIs</text>
      {patch(430, 3)}
      <text x={468} y={20} {...txt}>bootstrap CIs</text>
      <line x1={562} y1={15} x2={592} y2={15} stroke="#1f77b4" strokeWidth={3} />
      <circle cx={577} cy={15} r={4.2} fill="#1f77b4" stroke="#fff" strokeWidth={1} />
      <text x={600} y={20} {...txt}>YOTO (Ours)</text>
      <Marker kind="sep" cx={703} cy={15} />
      <text x={726} y={20} {...txt}>separate</text>
      <Marker kind="log" cx={806} cy={15} />
      <text x={831} y={20} {...txt}>logsig</text>
      <Marker kind="lin" cx={891} cy={15} />
      <text x={915} y={20} {...txt}>linear</text>
      <Marker kind="red" cx={974} cy={15} />
      <text x={997} y={20} {...txt}>reductions</text>
      <Marker kind="adv" cx={1089} cy={15} />
      <text x={1113} y={20} {...txt}>adversary</text>

      {titles.map((t, i) => (
        <text key={t} x={titleX[i]} y={66} textAnchor="middle" fontFamily="Liberation Serif" fontSize={27} fill="#000">{t}</text>
      ))}

      {panels.map((p, i) => {
        const [x0, y0, x1, y1] = p.box;
        const cy = (y0 + y1) / 2;
        const lx = x0 - 29;
        return (
          <g key={i}>
            <rect x={x0 + 0.5} y={y0 + 0.5} width={x1 - x0 - 1} height={y1 - y0 - 1} fill="none" stroke="#000" strokeWidth={1} />
            <text x={(x0 + x1) / 2} y={y1 + 25} textAnchor="middle" fontFamily="DejaVu Sans" fontSize={10.5}>Accuracy</text>
            <text x={lx} y={cy} transform={`rotate(-90 ${lx} ${cy})`} textAnchor="middle" fontFamily="DejaVu Sans" fontSize={10.5}>{p.ylabel}</text>
          </g>
        );
      })}
    </svg>
  );
}

export default function App() {
  return (
    <div style={{ position: "absolute", left: 0, top: 0, width: 1195, height: 655, background: "#fff", fontFamily: "DejaVu Sans" }}>
      {panels.map((p, i) => (
        <Panel key={i} cfg={p} />
      ))}
      <Overlay />
    </div>
  );
}
